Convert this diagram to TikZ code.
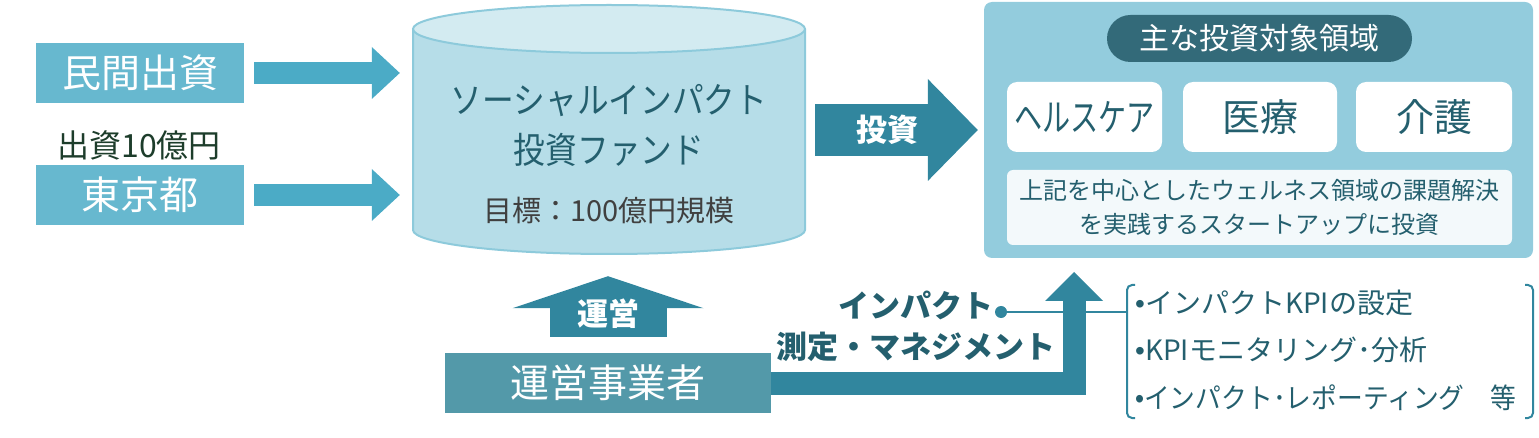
\documentclass[tikz,border=0pt]{standalone}
\usepackage{fontspec}
\setmainfont{Noto Sans CJK JP}
\newfontfamily\latinfont{Liberation Sans}
\usetikzlibrary{arrows.meta,positioning}

\definecolor{srcblue}{HTML}{67B8CF}
\definecolor{inblue}{HTML}{4BABC6}
\definecolor{deepteal}{HTML}{31869E}
\definecolor{inkteal}{HTML}{245F6E}
\definecolor{opsteal}{HTML}{5399A9}
\definecolor{cylbody}{HTML}{B6DDE8}
\definecolor{cyltop}{HTML}{D3EBF1}
\definecolor{cylline}{HTML}{8DCADB}
\definecolor{areablue}{HTML}{93CCDD}
\definecolor{pillteal}{HTML}{336A79}
\definecolor{notewhite}{HTML}{F3F9FB}
\definecolor{moneyink}{HTML}{1D3D2B}
\definecolor{goalink}{HTML}{404040}

\newcommand\fsz[2]{\fontsize{#1}{#2}\selectfont}

\begin{document}
\begin{tikzpicture}[x=1pt,y=-1pt,
	srcbox/.style={fill=srcblue,text=white,minimum width=208pt,minimum height=60pt,inner sep=0pt,font=\fsz{39}{46}},
	inflow/.style={draw=inblue,line width=22pt,-{Triangle[width=52pt,length=28pt,line width=0pt]}},
	fieldbox/.style={fill=white,rounded corners=10pt,minimum width=155pt,minimum height=70pt,inner sep=0pt,text=inkteal,font=\fsz{38}{45}},
	boldwhite/.style={text=white,font=\bfseries\fsz{31}{37}}]
	\useasboundingbox (0,0) rectangle (1539,438);
	% sources
	\node[srcbox] (minkan) at (140,73) {民間出資};
	\node[srcbox] (tokyo) at (140,195) {東京都};
	\node[text=moneyink,font=\fsz{32}{38}] (money) at (139,145) {出資10億円};
	% fund cylinder
	\node[minimum width=392pt,minimum height=250pt,inner sep=0pt] (fund) at (609,130) {};
	\filldraw[fill=cylbody,draw=cylline,line width=2pt] (413,29) -- (413,230) arc[start angle=180,end angle=360,x radius=196pt,y radius=24pt] -- (805,29);
	\filldraw[fill=cyltop,draw=cylline,line width=2pt] (609,29) ellipse[x radius=196pt,y radius=24pt];
	\node[text=inkteal,align=center,font=\fsz{36}{50}] (fundname) at (609,125) {\scalebox{0.88}[1]{ソーシャルインパクト}\\\scalebox{0.88}[1]{投資ファンド}};
	\node[text=goalink,font=\fsz{29}{35}] (goal) at (609,210) {目標：100億円規模};
	\draw[inflow,shorten <=10pt,shorten >=13pt] (minkan.east) -- (minkan.east -| fund.west);
	\draw[inflow,shorten <=10pt,shorten >=13pt] (tokyo.east) -- (tokyo.east -| fund.west);
	% target area
	\node[fill=areablue,rounded corners=8pt,minimum width=549pt,minimum height=256pt] (area) at (1258.5,130) {};
	\node[fill=pillteal,text=white,rounded corners=23.5pt,minimum width=305pt,minimum height=47pt,font=\fsz{30}{36}] (pill) at (1259.5,38.5) {主な投資対象領域};
	\node[fieldbox] (health) at (1084.5,117) {\scalebox{0.74}[1]{ヘルスケア}};
	\node[fieldbox,minimum width=154pt] (medical) at (1260,117) {医療};
	\node[fieldbox,minimum width=156pt] (care) at (1434,117) {介護};
	\node[fill=notewhite,rounded corners=6pt,minimum width=505pt,minimum height=75pt,inner sep=0pt,align=center,text=inkteal,font=\fsz{24}{34}] (note) at (1259.5,207.5) {上記を中心としたウェルネス領域の課題解決\\を実践するスタートアップに投資};
	\draw[deepteal,line width=52pt,-{Triangle[width=102pt,length=50pt,line width=0pt]},shorten <=10pt,shorten >=6pt] (fund.east) -- (area.west);
	\node[boldwhite] (invest) at (887,130) {投資};
	% operator
	\node[fill=opsteal,text=white,minimum width=326pt,minimum height=60pt,inner sep=0pt,font=\fsz{39}{46}] (ops) at (608,383) {運営事業者};
	\draw[deepteal,line width=117pt,-{Triangle[width=191pt,length=32pt,line width=0pt]},shorten <=16pt,shorten >=21pt] (ops.north) -- (ops.north |- fund.south);
	\node[boldwhite] (opslabel) at (608,314) {運営};
	% impact measurement
	\node[text=inkteal,align=center,font=\bfseries\fsz{31}{41}] (impact) at (916,326) {インパクト\\測定・マネジメント};
	\node[circle,fill=deepteal,minimum size=12pt,inner sep=0pt] (dot) at (1001,312) {};
	\node[anchor=west,text=inkteal,align=left,inner xsep=8pt,font=\fsz{28}{47.5}] (tasks) at (1127,350) {{\latinfont •}インパクトKPIの設定\\{\latinfont •}KPIモニタリング･分析\\\scalebox{0.92}[1]{{\latinfont •}インパクト･レポーティング　等}};
	\draw[deepteal,line width=2pt] (dot) -- (dot -| tasks.west);
	\coordinate (rise) at (1074,272);
	\draw[deepteal,line width=23pt,-{Triangle[width=58pt,length=29pt,line width=0pt]}] (ops.east) -| (rise);
	\draw[deepteal,line width=2pt,rounded corners=5pt] (1135,285) -- (1127,285) -- (1127,418) -- (1135,418);
	\draw[deepteal,line width=2pt,rounded corners=5pt] (1525,285) -- (1533,285) -- (1533,418) -- (1525,418);
\end{tikzpicture}
\end{document}
